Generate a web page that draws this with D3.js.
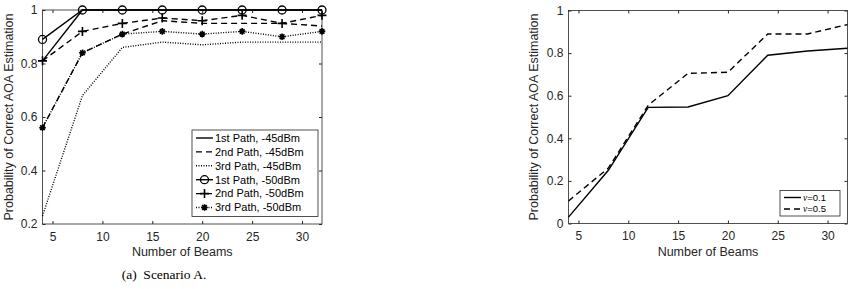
<!DOCTYPE html>
<html lang="en">
<head>
<meta charset="utf-8">
<title>Probability of Correct AOA Estimation</title>
<script src="https://d3js.org/d3.v7.min.js"></script>
<style>
  body { margin: 0; background: #fff; }
  svg { display: block; }
  .tick text { font-family: "Liberation Sans", Arial, sans-serif; font-size: 12px; fill: #262626; }
  .tick line { stroke: #262626; }
  .domain { display: none; }
  .lbl { font-family: "Liberation Sans", Arial, sans-serif; font-size: 12.5px; fill: #262626; }
  .leg { font-family: "Liberation Sans", Arial, sans-serif; font-size: 11px; fill: #000; }
</style>
</head>
<body>
<div id="chart"></div>
<script>
// data
var beams = [4, 8, 12, 16, 20, 24, 28, 32];
var xTicks = [5, 10, 15, 20, 25, 30];
var yTicksA = [0.2, 0.4, 0.6, 0.8, 1];
var yTicksB = [0, 0.2, 0.4, 0.6, 0.8, 1];

var p1_45 = [0.81, 1, 1, 1, 1, 1, 1, 1];
var p2_45 = [0.56, 0.84, 0.91, 0.96, 0.95, 0.95, 0.95, 0.94];
var p3_45 = [0.23, 0.68, 0.86, 0.88, 0.87, 0.88, 0.88, 0.88];
var p1_50 = [0.89, 1, 1, 1, 1, 1, 1, 1];
var p2_50 = [0.81, 0.92, 0.95, 0.97, 0.96, 0.98, 0.95, 0.98];
var p3_50 = [0.56, 0.84, 0.91, 0.92, 0.91, 0.92, 0.90, 0.92];

var nu01 = [0.03, 0.25, 0.545, 0.547, 0.60, 0.79, 0.81, 0.823];
var nu05 = [0.106, 0.26, 0.555, 0.705, 0.71, 0.89, 0.89, 0.934];

var seriesA = [
  {name: "1st Path, -45dBm", values: p1_45, dash: null, marker: null},
  {name: "2nd Path, -45dBm", values: p2_45, dash: "6,4", marker: null},
  {name: "3rd Path, -45dBm", values: p3_45, dash: "1,1.5", marker: null},
  {name: "1st Path, -50dBm", values: p1_50, dash: null, marker: "circle"},
  {name: "2nd Path, -50dBm", values: p2_50, dash: "6,4", marker: "plus"},
  {name: "3rd Path, -50dBm", values: p3_50, dash: "1,1.5", marker: "star"}
];
var seriesB = [
  {name: "0.1", values: nu01, dash: null, marker: null},
  {name: "0.5", values: nu05, dash: "6,4", marker: null}
];

var W = 855, H = 289;
var svg = d3.select("#chart").append("svg").attr("width", W).attr("height", H);

function drawMarker(g, type, cx, cy) {
  if (type === "circle") {
    g.append("circle").attr("cx", cx).attr("cy", cy).attr("r", 4)
      .attr("fill", "none").attr("stroke", "#000").attr("stroke-width", 1.3);
  } else if (type === "plus") {
    g.append("path").attr("d", "M" + (cx - 4.5) + "," + cy + "H" + (cx + 4.5) + "M" + cx + "," + (cy - 4.5) + "V" + (cy + 4.5))
      .attr("stroke", "#000").attr("stroke-width", 1.6).attr("fill", "none");
  } else if (type === "star") {
    var r = 3.3, d = "";
    for (var k = 0; k < 4; k++) {
      var a = k * Math.PI / 4;
      d += "M" + (cx - r * Math.cos(a)) + "," + (cy - r * Math.sin(a)) + "L" + (cx + r * Math.cos(a)) + "," + (cy + r * Math.sin(a));
    }
    g.append("path").attr("d", d).attr("stroke", "#000").attr("stroke-width", 1.6).attr("fill", "none");
    g.append("circle").attr("cx", cx).attr("cy", cy).attr("r", 2).attr("fill", "#000");
  }
}

function panel(opt) {
  var x = d3.scaleLinear().domain([4, 32]).range([opt.x0, opt.x1]);
  var y = d3.scaleLinear().domain(opt.yDomain).range([opt.y0, opt.y1]);
  var g = svg.append("g");

  g.append("rect").attr("x", opt.x0).attr("y", opt.y1)
    .attr("width", opt.x1 - opt.x0).attr("height", opt.y0 - opt.y1)
    .attr("fill", "none").attr("stroke", "#262626").attr("stroke-width", 0.8);

  g.append("g").attr("transform", "translate(0," + opt.y0 + ")")
    .call(d3.axisBottom(x).tickValues(xTicks).tickSizeInner(-3).tickSizeOuter(0).tickPadding(8));
  g.append("g").attr("transform", "translate(0," + opt.y1 + ")")
    .call(d3.axisTop(x).tickValues(xTicks).tickSizeInner(-3).tickSizeOuter(0).tickFormat(""));
  g.append("g").attr("transform", "translate(" + opt.x0 + ",0)")
    .call(d3.axisLeft(y).tickValues(opt.yTicks).tickSizeInner(-3).tickSizeOuter(0).tickPadding(5)
      .tickFormat(function(d) { return String(d); }));
  g.append("g").attr("transform", "translate(" + opt.x1 + ",0)")
    .call(d3.axisRight(y).tickValues(opt.yTicks).tickSizeInner(-3).tickSizeOuter(0).tickFormat(""));

  g.append("text").attr("class", "lbl").attr("text-anchor", "middle")
    .attr("x", (opt.x0 + opt.x1) / 2).attr("y", 256).text("Number of Beams");
  g.append("text").attr("class", "lbl").attr("text-anchor", "middle")
    .attr("transform", "translate(" + opt.ylx + "," + (opt.y0 + opt.y1) / 2 + ") rotate(-90)")
    .text("Probability of Correct AOA Estimation");

  var line = d3.line()
    .x(function(d, i) { return x(beams[i]); })
    .y(function(d) { return y(d); });

  opt.series.forEach(function(s) {
    g.append("path").datum(s.values).attr("d", line)
      .attr("fill", "none").attr("stroke", "#000")
      .attr("stroke-width", 1.4)
      .attr("stroke-dasharray", s.dash);
    if (s.marker) {
      s.values.forEach(function(v, i) { drawMarker(g, s.marker, x(beams[i]), y(v)); });
    }
  });

  // legend
  var L = opt.legend;
  var lg = g.append("g");
  lg.append("rect").attr("x", L.x).attr("y", L.y).attr("width", L.w).attr("height", L.h)
    .attr("fill", "#fff").attr("stroke", "#262626").attr("stroke-width", 0.8);
  opt.series.forEach(function(s, i) {
    var yy = L.y + L.pad + i * L.step;
    lg.append("line").attr("x1", L.x + 4).attr("x2", L.x + 21).attr("y1", yy).attr("y2", yy)
      .attr("stroke", "#000").attr("stroke-width", 1.4).attr("stroke-dasharray", s.dash);
    if (s.marker) drawMarker(lg, s.marker, L.x + 12.5, yy);
    var t = lg.append("text").attr("class", "leg").attr("x", L.x + 23).attr("y", yy + L.fs * 0.35)
      .style("font-size", L.fs + "px");
    if (opt.nu) {
      t.append("tspan").attr("font-family", "Liberation Serif, serif").attr("font-style", "italic").text("\u03bd");
      t.append("tspan").text("=" + s.name);
    } else {
      t.text(s.name);
    }
  });
}

panel({
  x0: 42.5, x1: 322, y0: 224, y1: 10, yDomain: [0.2, 1], yTicks: yTicksA, ylx: 13,
  series: seriesA, nu: false,
  legend: {x: 192, y: 130, w: 126, h: 86.5, pad: 8, step: 13.9, fs: 11}
});
panel({
  x0: 568.5, x1: 847.5, y0: 223.5, y1: 10.5, yDomain: [0, 1], yTicks: yTicksB, ylx: 538,
  series: seriesB, nu: true,
  legend: {x: 780, y: 190.5, w: 60, h: 25.5, pad: 7, step: 11.5, fs: 9.5}
});

svg.append("text").attr("x", 164).attr("y", 279).attr("text-anchor", "middle")
  .attr("font-family", "Liberation Serif, 'Times New Roman', serif").attr("font-size", "13.5px")
  .text("(a)\u00a0\u00a0Scenario A.");
</script>
</body>
</html>
